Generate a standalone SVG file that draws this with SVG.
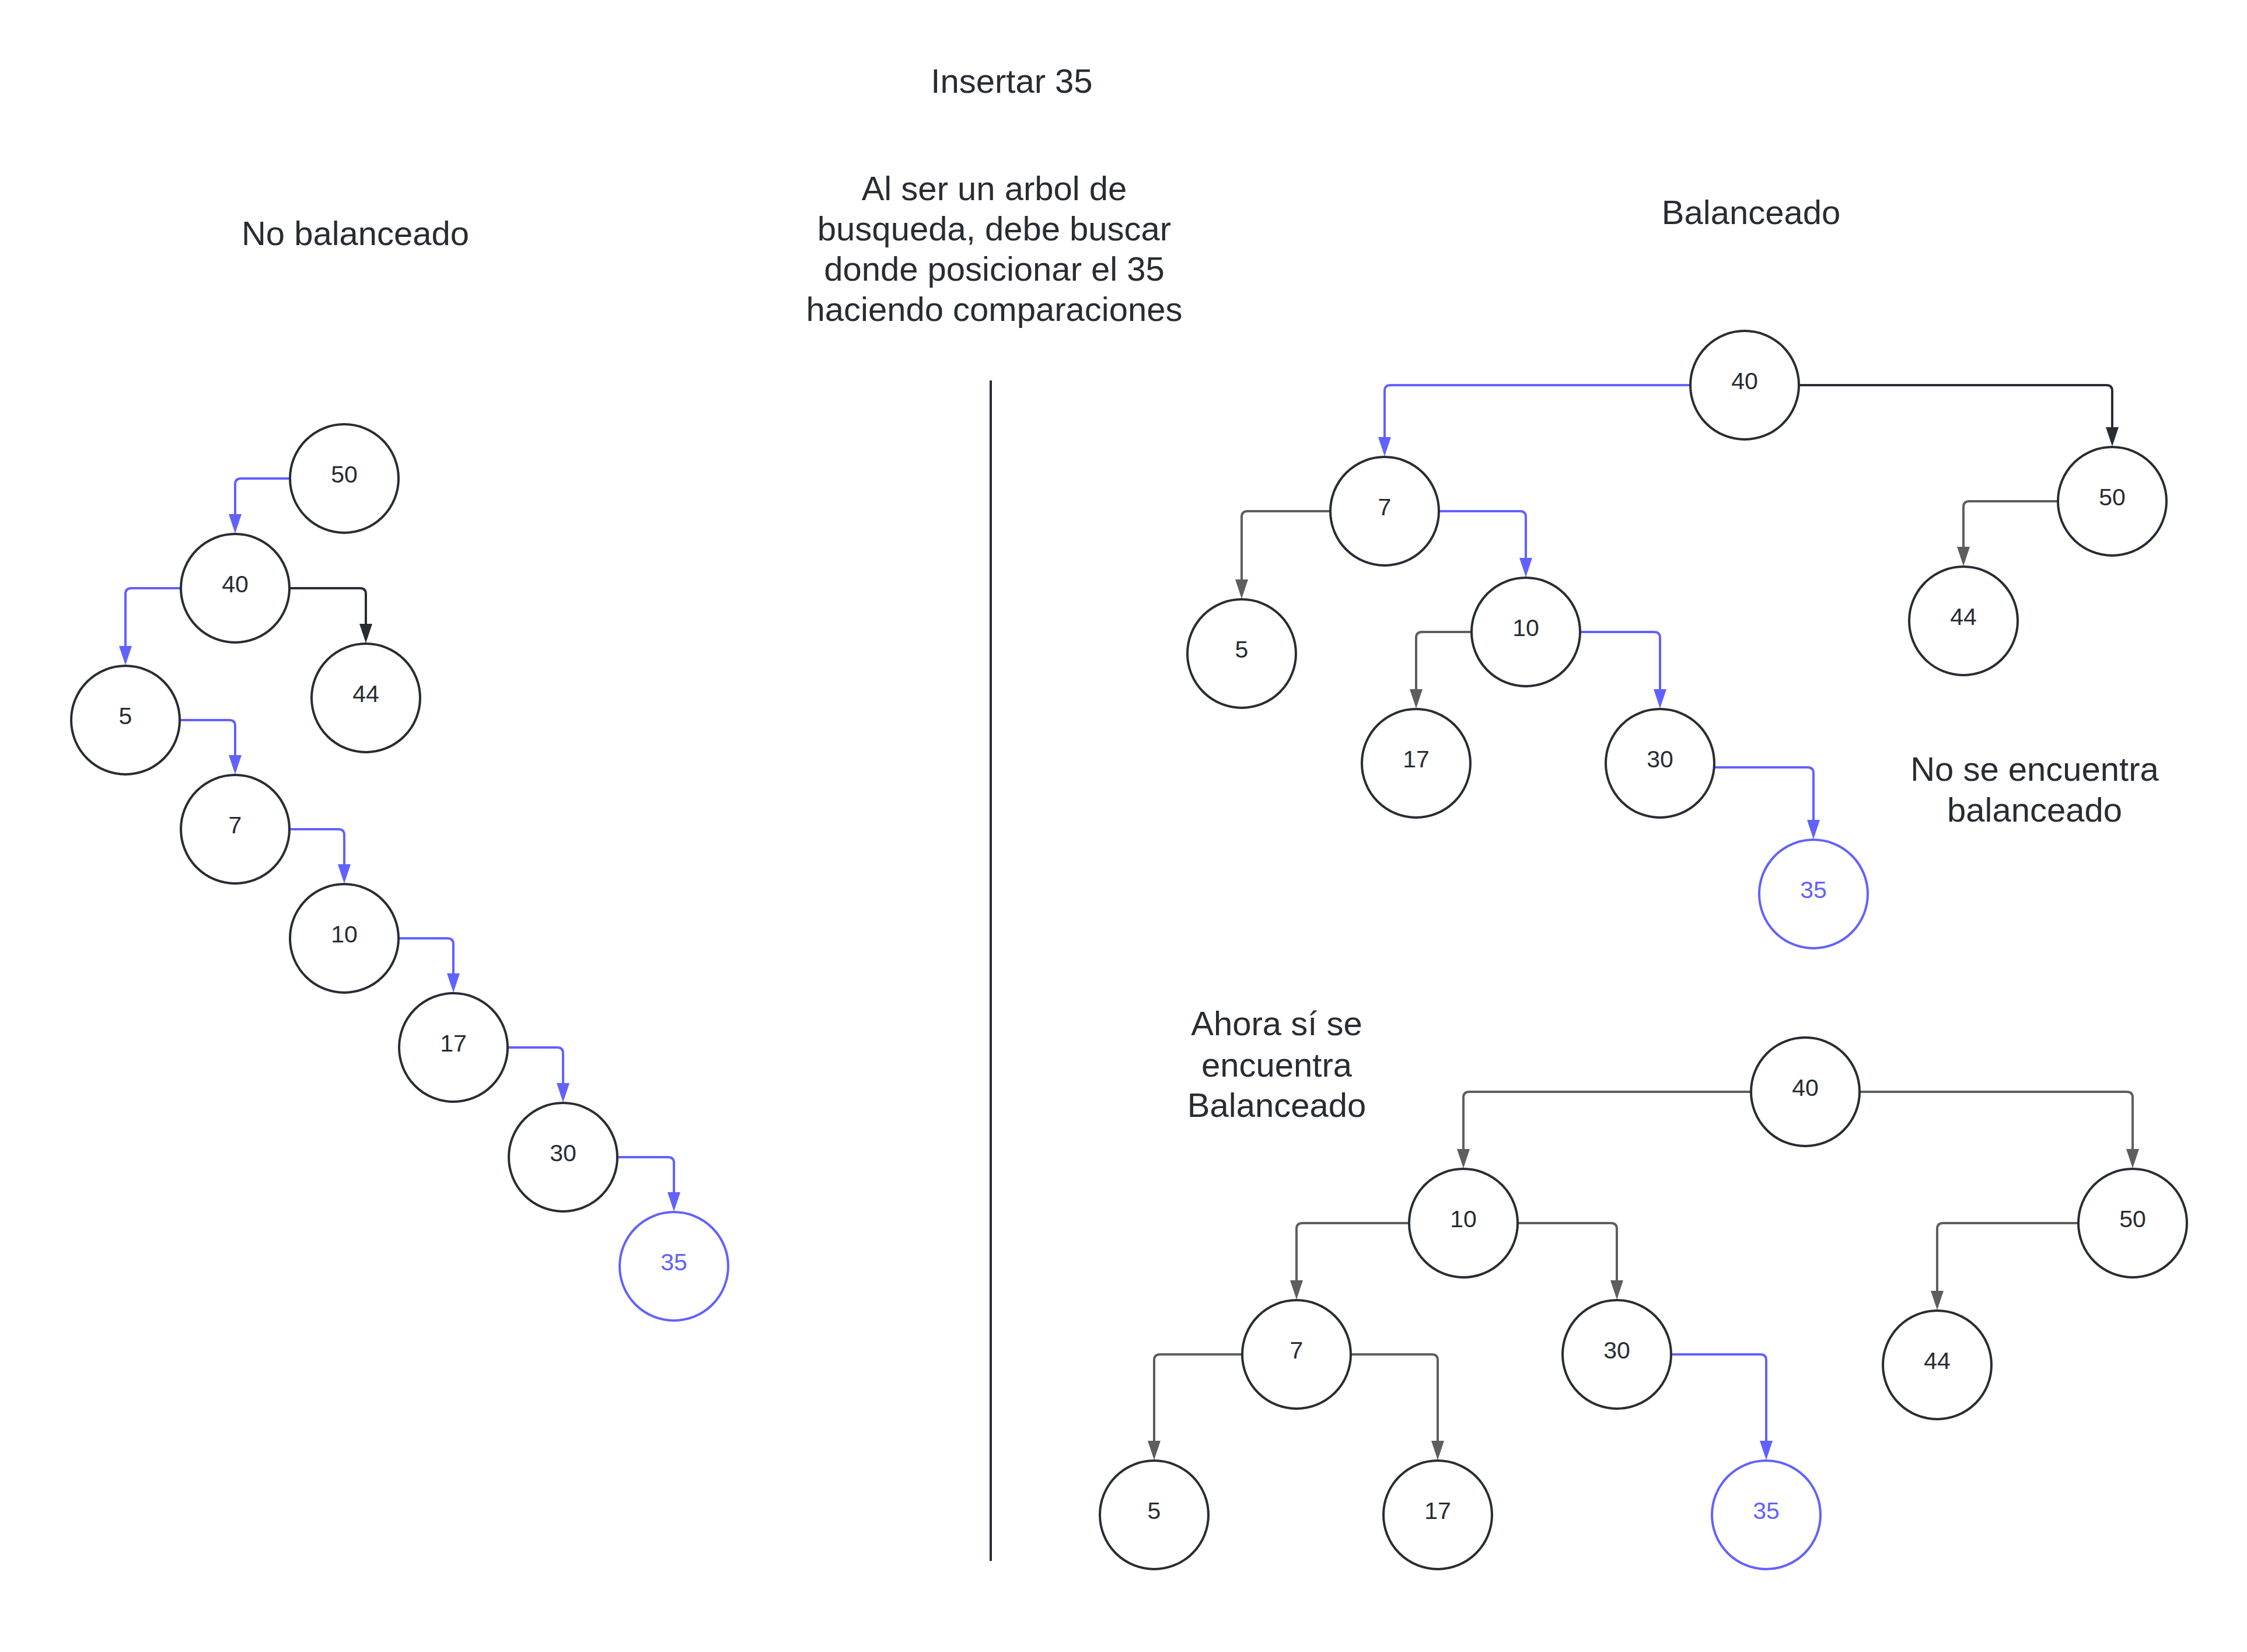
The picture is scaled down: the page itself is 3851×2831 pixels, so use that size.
<svg xmlns="http://www.w3.org/2000/svg" width="3851" height="2831" viewBox="0 0 3851 2831">
<style>
.bg{fill:#ffffff}
.n circle{fill:#ffffff;stroke:#282c33;stroke-width:4}
.n text{font-family:"Liberation Sans",Arial,sans-serif;font-size:41px;fill:#282c33;text-anchor:middle}
.n.new circle{stroke:#6161ff}
.n.new text{fill:#6161ff}
.lbl{font-family:"Liberation Sans",Arial,sans-serif;font-size:58px;fill:#282c33;text-anchor:middle}
.c path{fill:none;stroke-width:4}
.blue{stroke:#6161ff}
.dark{stroke:#282c33}
.gray{stroke:#5e5e5e}
</style>
<defs>
<marker id="mb" markerUnits="userSpaceOnUse" markerWidth="34" markerHeight="22" refX="23" refY="11" orient="auto" viewBox="0 0 34 22"><path d="M0,0 L33,11 L0,22 z" fill="#6161ff"/></marker>
<marker id="md" markerUnits="userSpaceOnUse" markerWidth="34" markerHeight="22" refX="23" refY="11" orient="auto" viewBox="0 0 34 22"><path d="M0,0 L33,11 L0,22 z" fill="#282c33"/></marker>
<marker id="mg" markerUnits="userSpaceOnUse" markerWidth="34" markerHeight="22" refX="23" refY="11" orient="auto" viewBox="0 0 34 22"><path d="M0,0 L33,11 L0,22 z" fill="#5e5e5e"/></marker>
</defs>
<rect class="bg" x="0" y="0" width="3851" height="2831"/>

<g id="labels">
<text class="lbl" x="1734" y="159">Insertar 35</text>
<text class="lbl" x="609" y="420">No balanceado</text>
<text class="lbl" x="1704" y="343">Al ser un arbol de</text>
<text class="lbl" x="1704" y="412">busqueda, debe buscar</text>
<text class="lbl" x="1704" y="481">donde posicionar el 35</text>
<text class="lbl" x="1704" y="550">haciendo comparaciones</text>
<text class="lbl" x="3001" y="384">Balanceado</text>
<text class="lbl" x="3487" y="1338">No se encuentra</text>
<text class="lbl" x="3487" y="1408">balanceado</text>
<text class="lbl" x="2188" y="1774">Ahora sí se</text>
<text class="lbl" x="2188" y="1845">encuentra</text>
<text class="lbl" x="2188" y="1914">Balanceado</text>
</g>

<g id="divider"><line x1="1698" y1="652" x2="1698" y2="2675" stroke="#282c33" stroke-width="4"/></g>

<g id="connectors" class="c">
<path class="blue" marker-end="url(#mb)" d="M497,820 H413 Q403,820 403,830 V904"/>
<path class="blue" marker-end="url(#mb)" d="M310,1008 H225 Q215,1008 215,1018 V1130"/>
<path class="dark" marker-end="url(#md)" d="M496,1008 H617 Q627,1008 627,1018 V1092"/>
<path class="blue" marker-end="url(#mb)" d="M308,1234 H393 Q403,1234 403,1244 V1317"/>
<path class="blue" marker-end="url(#mb)" d="M496,1421 H580 Q590,1421 590,1431 V1504"/>
<path class="blue" marker-end="url(#mb)" d="M683,1608 H767 Q777,1608 777,1618 V1691"/>
<path class="blue" marker-end="url(#mb)" d="M870,1795 H955 Q965,1795 965,1805 V1879"/>
<path class="blue" marker-end="url(#mb)" d="M1058,1983 H1145 Q1155,1983 1155,1993 V2066"/>

<path class="blue" marker-end="url(#mb)" d="M2897,660 H2383 Q2373,660 2373,670 V772"/>
<path class="dark" marker-end="url(#md)" d="M3083,660 H3610 Q3620,660 3620,670 V755"/>
<path class="gray" marker-end="url(#mg)" d="M2280,876 H2138 Q2128,876 2128,886 V1016"/>
<path class="blue" marker-end="url(#mb)" d="M2466,876 H2605 Q2615,876 2615,886 V979"/>
<path class="gray" marker-end="url(#mg)" d="M3527,859 H3375 Q3365,859 3365,869 V960"/>
<path class="gray" marker-end="url(#mg)" d="M2522,1083 H2437 Q2427,1083 2427,1093 V1204"/>
<path class="blue" marker-end="url(#mb)" d="M2708,1083 H2835 Q2845,1083 2845,1093 V1204"/>
<path class="blue" marker-end="url(#mb)" d="M2938,1315 H3098 Q3108,1315 3108,1325 V1428"/>

<path class="gray" marker-end="url(#mg)" d="M3001,1871 H2518 Q2508,1871 2508,1881 V1992"/>
<path class="gray" marker-end="url(#mg)" d="M3187,1871 H3645 Q3655,1871 3655,1881 V1992"/>
<path class="gray" marker-end="url(#mg)" d="M2415,2096 H2232 Q2222,2096 2222,2106 V2217"/>
<path class="gray" marker-end="url(#mg)" d="M2601,2096 H2761 Q2771,2096 2771,2106 V2217"/>
<path class="gray" marker-end="url(#mg)" d="M3562,2096 H3330 Q3320,2096 3320,2106 V2235"/>
<path class="gray" marker-end="url(#mg)" d="M2129,2321 H1988 Q1978,2321 1978,2331 V2492"/>
<path class="gray" marker-end="url(#mg)" d="M2315,2321 H2454 Q2464,2321 2464,2331 V2492"/>
<path class="blue" marker-end="url(#mb)" d="M2864,2321 H3017 Q3027,2321 3027,2331 V2492"/>
</g>

<g id="L50" class="n"><circle cx="590" cy="820" r="93"/><text x="590" y="827">50</text></g>
<g id="L40" class="n"><circle cx="403" cy="1008" r="93"/><text x="403" y="1015">40</text></g>
<g id="L44" class="n"><circle cx="627" cy="1196" r="93"/><text x="627" y="1203">44</text></g>
<g id="L5" class="n"><circle cx="215" cy="1234" r="93"/><text x="215" y="1241">5</text></g>
<g id="L7" class="n"><circle cx="403" cy="1421" r="93"/><text x="403" y="1428">7</text></g>
<g id="L10" class="n"><circle cx="590" cy="1608" r="93"/><text x="590" y="1615">10</text></g>
<g id="L17" class="n"><circle cx="777" cy="1795" r="93"/><text x="777" y="1802">17</text></g>
<g id="L30" class="n"><circle cx="965" cy="1983" r="93"/><text x="965" y="1990">30</text></g>
<g id="L35" class="n new"><circle cx="1155" cy="2170" r="93"/><text x="1155" y="2177">35</text></g>

<g id="T40" class="n"><circle cx="2990" cy="660" r="93"/><text x="2990" y="667">40</text></g>
<g id="T7" class="n"><circle cx="2373" cy="876" r="93"/><text x="2373" y="883">7</text></g>
<g id="T50" class="n"><circle cx="3620" cy="859" r="93"/><text x="3620" y="866">50</text></g>
<g id="T5" class="n"><circle cx="2128" cy="1120" r="93"/><text x="2128" y="1127">5</text></g>
<g id="T10" class="n"><circle cx="2615" cy="1083" r="93"/><text x="2615" y="1090">10</text></g>
<g id="T44" class="n"><circle cx="3365" cy="1064" r="93"/><text x="3365" y="1071">44</text></g>
<g id="T17" class="n"><circle cx="2427" cy="1308" r="93"/><text x="2427" y="1315">17</text></g>
<g id="T30" class="n"><circle cx="2845" cy="1308" r="93"/><text x="2845" y="1315">30</text></g>
<g id="T35" class="n new"><circle cx="3108" cy="1532" r="93"/><text x="3108" y="1539">35</text></g>

<g id="B40" class="n"><circle cx="3094" cy="1871" r="93"/><text x="3094" y="1878">40</text></g>
<g id="B10" class="n"><circle cx="2508" cy="2096" r="93"/><text x="2508" y="2103">10</text></g>
<g id="B50" class="n"><circle cx="3655" cy="2096" r="93"/><text x="3655" y="2103">50</text></g>
<g id="B7" class="n"><circle cx="2222" cy="2321" r="93"/><text x="2222" y="2328">7</text></g>
<g id="B30" class="n"><circle cx="2771" cy="2321" r="93"/><text x="2771" y="2328">30</text></g>
<g id="B44" class="n"><circle cx="3320" cy="2339" r="93"/><text x="3320" y="2346">44</text></g>
<g id="B5" class="n"><circle cx="1978" cy="2596" r="93"/><text x="1978" y="2603">5</text></g>
<g id="B17" class="n"><circle cx="2464" cy="2596" r="93"/><text x="2464" y="2603">17</text></g>
<g id="B35" class="n new"><circle cx="3027" cy="2596" r="93"/><text x="3027" y="2603">35</text></g>
</svg>
